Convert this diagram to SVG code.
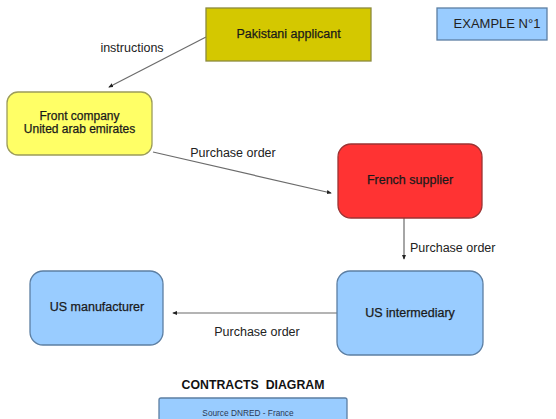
<svg xmlns="http://www.w3.org/2000/svg" width="556" height="419" viewBox="0 0 556 419">
  <style>
    .lbl { font-family: "Liberation Sans", Arial, sans-serif; font-size: 12.5px; fill: #222; }
    .node-text { font-family: "Liberation Sans", Arial, sans-serif; font-size: 12.5px; fill: #1a1a1a; text-anchor: middle; stroke: #1a1a1a; stroke-width: 0.25; }
    .edge { stroke: #6b6b6b; stroke-width: 1.2; fill: none; marker-end: url(#dot); }
    .blue { fill: #99ccff; stroke: #5c7fa3; stroke-width: 1.3; }
  </style>
  <defs>
    <marker id="dot" viewBox="0 0 6 6" refX="5" refY="3" markerWidth="5" markerHeight="5" orient="auto" markerUnits="userSpaceOnUse">
      <path d="M0,0.5 L6,3 L0,5.5 Z" fill="#222"/>
    </marker>
  </defs>
  <rect width="556" height="419" fill="#ffffff"/>

  <!-- connectors -->
  <g id="connectors">
    <line class="edge" x1="206" y1="37" x2="109" y2="87"/>
    <line class="edge" x1="153" y1="152" x2="331" y2="193"/>
    <line class="edge" x1="404" y1="218" x2="404" y2="259"/>
    <line class="edge" x1="338" y1="313" x2="173" y2="313"/>
    <text class="lbl" x="132" y="52" text-anchor="middle">instructions</text>
    <text class="lbl" x="233" y="157" text-anchor="middle">Purchase order</text>
    <text class="lbl" x="410" y="252">Purchase order</text>
    <text class="lbl" x="257" y="336" text-anchor="middle">Purchase order</text>
  </g>

  <g id="pakistani-applicant">
    <rect x="206" y="8" width="165" height="53" fill="#d4c800" stroke="#8c8a3c" stroke-width="1.3"/>
    <text class="node-text" x="288.5" y="37.5">Pakistani applicant</text>
  </g>

  <g id="example">
    <rect class="blue" x="437" y="8" width="110" height="32"/>
    <text class="lbl" x="497" y="28" text-anchor="middle" style="font-size:13px">EXAMPLE N°1</text>
  </g>

  <g id="front-company">
    <rect x="7" y="92" width="145" height="63" rx="11" fill="#ffff66" stroke="#9c9c5a" stroke-width="1.3"/>
    <text class="node-text" x="79.5" y="119.5" style="font-size:12px">Front company</text>
    <text class="node-text" x="79.5" y="133" style="font-size:12px">United arab emirates</text>
  </g>

  <g id="french-supplier">
    <rect x="338" y="144" width="144" height="74" rx="13" fill="#ff3333" stroke="#9c3333" stroke-width="1.3"/>
    <text class="node-text" x="410" y="184">French supplier</text>
  </g>

  <g id="us-manufacturer">
    <rect class="blue" x="30" y="271" width="133" height="74" rx="13"/>
    <text class="node-text" x="97" y="311">US manufacturer</text>
  </g>

  <g id="us-intermediary">
    <rect class="blue" x="337" y="271" width="146" height="84" rx="13"/>
    <text class="node-text" x="410" y="317">US intermediary</text>
  </g>

  <g id="caption">
    <text x="253" y="388.5" text-anchor="middle" style="font-family:'Liberation Sans',Arial,sans-serif;font-size:12.3px;font-weight:bold;fill:#111;white-space:pre">CONTRACTS  DIAGRAM</text>
    <rect class="blue" x="159" y="398" width="188" height="24" rx="2"/>
    <text x="248" y="416" text-anchor="middle" style="font-family:'Liberation Sans',Arial,sans-serif;font-size:8.3px;fill:#2a3a55">Source DNRED - France</text>
  </g>
</svg>
